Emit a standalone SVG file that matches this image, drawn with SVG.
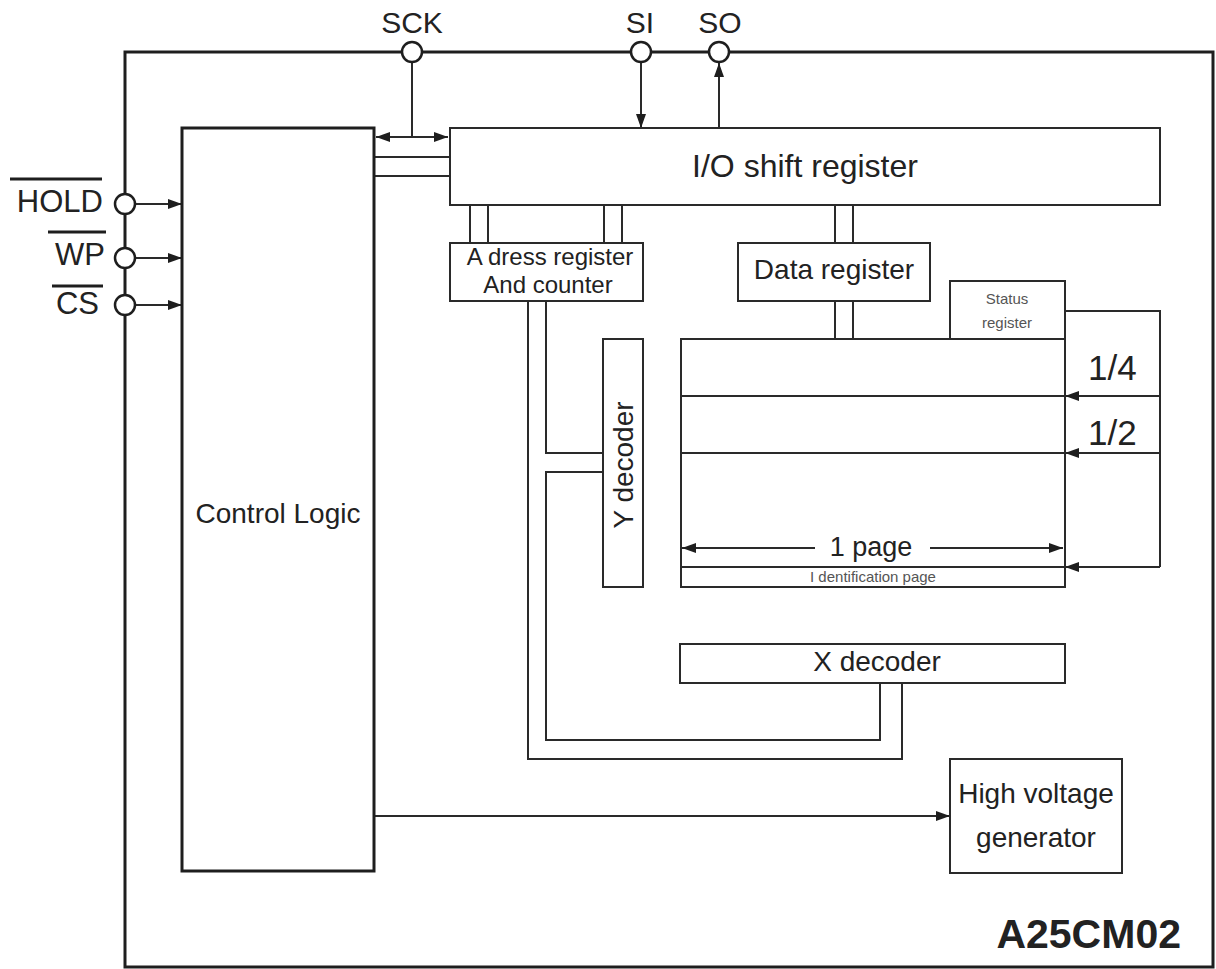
<svg xmlns="http://www.w3.org/2000/svg" width="1216" height="969" viewBox="0 0 1216 969">
<style>
.box{fill:#fff;stroke:#2a2a2a;stroke-width:2}
.thick{fill:none;stroke:#1e1e1e;stroke-width:3}
.ln{fill:none;stroke:#2a2a2a;stroke-width:2}
.pin{fill:#fff;stroke:#1e1e1e;stroke-width:2.5}
.ar{marker-end:url(#ah)}
.t{font-family:"Liberation Sans",Arial,sans-serif;fill:#222}
.g{fill:#555}
</style>
<defs>
<marker id="ah" viewBox="0 0 14 10" refX="14" refY="5" markerWidth="14" markerHeight="10" markerUnits="userSpaceOnUse" orient="auto-start-reverse">
<path d="M0,0 L14,5 L0,10 z" fill="#1e1e1e"/>
</marker>
</defs>
<rect width="1216" height="969" fill="#fff"/>

<g id="frame">
<path class="thick" d="M125,967 L125,52 L1213,52 L1213,967 Z"/>
</g>

<g id="connectors">
<!-- SCK -->
<line class="ln" x1="412" y1="62" x2="412" y2="137"/>
<line class="ln" x1="376" y1="137" x2="448" y2="137" marker-start="url(#ah)" marker-end="url(#ah)"/>
<line class="ln" x1="374" y1="157" x2="450" y2="157"/>
<line class="ln" x1="374" y1="176" x2="450" y2="176"/>
<!-- SI / SO -->
<line class="ln ar" x1="641" y1="62" x2="641" y2="128"/>
<line class="ln ar" x1="719" y1="128" x2="719" y2="63"/>
<!-- pins to control -->
<line class="ln ar" x1="135" y1="204" x2="182" y2="204"/>
<line class="ln ar" x1="135" y1="258" x2="182" y2="258"/>
<line class="ln ar" x1="135" y1="305" x2="182" y2="305"/>
<!-- IO to address reg -->
<line class="ln" x1="470" y1="205" x2="470" y2="243"/>
<line class="ln" x1="488" y1="205" x2="488" y2="243"/>
<line class="ln" x1="604" y1="205" x2="604" y2="243"/>
<line class="ln" x1="622" y1="205" x2="622" y2="243"/>
<!-- IO to data reg -->
<line class="ln" x1="835" y1="205" x2="835" y2="243"/>
<line class="ln" x1="853" y1="205" x2="853" y2="243"/>
<!-- data reg to array -->
<line class="ln" x1="835" y1="301" x2="835" y2="339"/>
<line class="ln" x1="853" y1="301" x2="853" y2="339"/>
<!-- address reg to Y decoder / X decoder -->
<polyline class="ln" points="546,301 546,453 603,453"/>
<polyline class="ln" points="603,472 546,472 546,740 880,740 880,683"/>
<polyline class="ln" points="528,301 528,759 902,759 902,683"/>
<!-- status register feedback -->
<polyline class="ln" points="1065,311 1160,311 1160,567"/>
<line class="ln" x1="681" y1="396" x2="1065" y2="396"/>
<line class="ln ar" x1="1160" y1="396" x2="1065" y2="396"/>
<line class="ln" x1="681" y1="453" x2="1065" y2="453"/>
<line class="ln ar" x1="1160" y1="453" x2="1065" y2="453"/>
<line class="ln" x1="681" y1="567" x2="1065" y2="567"/>
<line class="ln ar" x1="1160" y1="567" x2="1065" y2="567"/>
<!-- 1 page arrows -->
<line class="ln ar" x1="815" y1="548" x2="682" y2="548"/>
<line class="ln ar" x1="930" y1="548" x2="1063" y2="548"/>
<!-- control to HV -->
<line class="ln ar" x1="374" y1="816" x2="950" y2="816"/>
</g>

<g id="pins">
<circle class="pin" cx="412" cy="52" r="10"/>
<circle class="pin" cx="641" cy="52" r="10"/>
<circle class="pin" cx="719" cy="52" r="10"/>
<circle class="pin" cx="125" cy="204" r="10"/>
<circle class="pin" cx="125" cy="258" r="10"/>
<circle class="pin" cx="125" cy="305" r="10"/>
<text class="t" x="412" y="33" font-size="30" text-anchor="middle">SCK</text>
<text class="t" x="640" y="33" font-size="30" text-anchor="middle">SI</text>
<text class="t" x="720" y="33" font-size="30" text-anchor="middle">SO</text>
<text class="t" x="103" y="212" font-size="31" text-anchor="end">HOLD</text>
<text class="t" x="105" y="265" font-size="31" text-anchor="end">WP</text>
<text class="t" x="99" y="314" font-size="31" text-anchor="end">CS</text>
<line stroke="#1e1e1e" stroke-width="3" x1="10" y1="179" x2="102" y2="179"/>
<line stroke="#1e1e1e" stroke-width="3" x1="48" y1="232" x2="106" y2="232"/>
<line stroke="#1e1e1e" stroke-width="3" x1="52" y1="286" x2="103" y2="286"/>
</g>

<g id="control-logic">
<rect x="182" y="128" width="192" height="743" fill="#fff" stroke="#1e1e1e" stroke-width="3"/>
<text class="t" x="278" y="523" font-size="28" text-anchor="middle" fill="#333">Control Logic</text>
</g>

<g id="io-shift-register">
<rect class="box" x="450" y="128" width="710" height="77"/>
<text class="t" x="805" y="177" font-size="32" text-anchor="middle">I/O shift register</text>
</g>

<g id="address-register">
<rect class="box" x="450" y="243" width="193" height="58"/>
<text class="t" x="550" y="265" font-size="24" text-anchor="middle">A dress register</text>
<text class="t" x="548" y="293" font-size="24" text-anchor="middle">And counter</text>
</g>

<g id="data-register">
<rect class="box" x="738" y="243" width="192" height="58"/>
<text class="t" x="834" y="279" font-size="28" text-anchor="middle">Data register</text>
</g>

<g id="status-register">
<rect class="box" x="950" y="281" width="115" height="58"/>
<text class="t g" x="1007" y="304" font-size="15" text-anchor="middle">Status</text>
<text class="t g" x="1007" y="328" font-size="15" text-anchor="middle">register</text>
</g>

<g id="memory-array">
<rect x="681" y="339" width="384" height="248" fill="none" stroke="#2a2a2a" stroke-width="2"/>
<text class="t" x="1088" y="380" font-size="35">1/4</text>
<text class="t" x="1088" y="445" font-size="35">1/2</text>
<text class="t" x="871" y="556" font-size="27" text-anchor="middle">1 page</text>
<text class="t g" x="873" y="582" font-size="15" text-anchor="middle">I dentification page</text>
</g>

<g id="y-decoder">
<rect class="box" x="603" y="339" width="40" height="248"/>
<text class="t" transform="translate(633,465) rotate(-90)" font-size="28" text-anchor="middle">Y decoder</text>
</g>

<g id="x-decoder">
<rect class="box" x="680" y="644" width="385" height="39"/>
<text class="t" x="877" y="671" font-size="28" text-anchor="middle">X decoder</text>
</g>

<g id="high-voltage-generator">
<rect class="box" x="950" y="759" width="172" height="114"/>
<text class="t" x="1036" y="803" font-size="28" text-anchor="middle">High voltage</text>
<text class="t" x="1036" y="847" font-size="28" text-anchor="middle">generator</text>
</g>

<g id="label">
<text class="t" x="1181" y="948" font-size="41" font-weight="bold" text-anchor="end" fill="#111">A25CM02</text>
</g>
</svg>
